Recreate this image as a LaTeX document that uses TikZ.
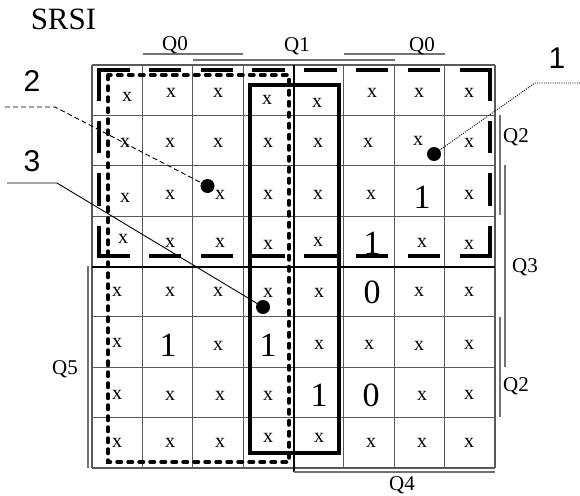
\documentclass[tikz,border=0pt]{standalone}
\usepackage{fontspec}
\setmainfont{Liberation Serif}
\newfontfamily\calloutfont{Liberation Sans}
\begin{document}
\begin{tikzpicture}[x=1pt,y=-1pt,
  gridline/.style={draw=black!65,line width=1.2pt},
  midline/.style={draw=black,line width=2pt},
  varline/.style={draw=black!55,line width=1.3pt},
  cx/.style={inner sep=0pt,font=\fontsize{20}{20}\selectfont},
  cbig/.style={inner sep=0pt,font=\fontsize{34}{34}\selectfont},
  qlab/.style={inner sep=0pt,anchor=base,font=\fontsize{21}{21}\selectfont},
  callout/.style={inner sep=0pt,font=\calloutfont\fontsize{30}{30}\selectfont},
  dotmark/.style={circle,fill=black,inner sep=0pt,minimum size=14pt},
  hdash/.style={line width=4pt,line cap=rect,dash pattern=on 28.5pt off 23.29pt},
  vdash/.style={line width=4pt,line cap=rect,dash pattern=on 28.5pt off 24pt},
  dotloop/.style={line width=3.5pt,line cap=round,dash pattern=on 4.5pt off 6.5pt},
  solidloop/.style={line width=4pt,line join=miter},
  leadA/.style={line width=0.9pt,dash pattern=on 1pt off 1.2pt},
  leadB/.style={line width=0.9pt,dash pattern=on 5pt off 3pt},
  leadC/.style={line width=0.9pt}]
\useasboundingbox (0,0) rectangle (580,495);

% grid
\foreach \i in {0,...,8} {
  \draw[gridline] ({92+50.375*\i},65) -- ({92+50.375*\i},468);
  \draw[gridline] (92,{65+50.375*\i}) -- (495,{65+50.375*\i});
}
\draw[midline] (293.5,65) -- (293.5,472);
\draw[midline] (92,266.5) -- (495,266.5);

% variable bars
\draw[varline] (143,54) -- (243,54);
\draw[varline] (193,60) -- (395,60);
\draw[varline] (344,54) -- (445,54);
\draw[varline] (500,115) -- (500,215);
\draw[varline] (505,165) -- (505,367);
\draw[varline] (500,317) -- (500,417);
\draw[varline] (294,472) -- (495,472);
\draw[varline] (88,266) -- (88,468);

% labels
\node[inner sep=0pt,anchor=base,font=\fontsize{31}{31}\selectfont] (title) at (63.5,29.3) {SRSI};
\node[qlab] (q0a) at (175,50) {Q0};
\node[qlab] (q1) at (297,52) {Q1};
\node[qlab] (q0b) at (422,52) {Q0};
\node[qlab] (q2a) at (516,142) {Q2};
\node[qlab] (q3) at (525,272) {Q3};
\node[qlab] (q2b) at (516,391) {Q2};
\node[qlab] (q4) at (402,490) {Q4};
\node[qlab] (q5) at (65,374) {Q5};

% cell entries
\node[cx] (c11) at (127,97) {x};
\node[cx] (c12) at (171,93) {x};
\node[cx] (c13) at (218,93) {x};
\node[cx] (c14) at (267,100) {x};
\node[cx] (c15) at (317,103) {x};
\node[cx] (c16) at (372,93) {x};
\node[cx] (c17) at (419,93) {x};
\node[cx] (c18) at (469,93) {x};

\node[cx] (c21) at (125,143) {x};
\node[cx] (c22) at (170,143) {x};
\node[cx] (c23) at (218,143) {x};
\node[cx] (c24) at (268,143) {x};
\node[cx] (c25) at (318,143) {x};
\node[cx] (c26) at (368,143) {x};
\node[cx] (c27) at (418,141) {x};
\node[cx] (c28) at (469,143) {x};

\node[cx] (c31) at (125,198) {x};
\node[cx] (c32) at (170,195) {x};
\node[cx] (c33) at (220,195) {x};
\node[cx] (c34) at (268,195) {x};
\node[cx] (c35) at (318,195) {x};
\node[cx] (c36) at (371,195) {x};
\node[cbig] (c37) at (422,197) {1};
\node[cx] (c38) at (469,195) {x};

\node[cx] (c41) at (123,239) {x};
\node[cx] (c42) at (170,243) {x};
\node[cx] (c43) at (220,243) {x};
\node[cx] (c44) at (268,245) {x};
\node[cx] (c45) at (318,242) {x};
\node[cbig] (c46) at (372,243) {1};
\node[cx] (c47) at (422,243) {x};
\node[cx] (c48) at (469,245) {x};

\node[cx] (c51) at (117,292) {x};
\node[cx] (c52) at (170,292) {x};
\node[cx] (c53) at (218,292) {x};
\node[cx] (c54) at (268,293) {x};
\node[cx] (c55) at (319,293) {x};
\node[cbig] (c56) at (372,292) {0};
\node[cx] (c57) at (419,292) {x};
\node[cx] (c58) at (469,292) {x};

\node[cx] (c61) at (117,343) {x};
\node[cbig] (c62) at (168,345) {1};
\node[cx] (c63) at (218,346) {x};
\node[cbig] (c64) at (268,345) {1};
\node[cx] (c65) at (319,345) {x};
\node[cx] (c66) at (369,345) {x};
\node[cx] (c67) at (419,346) {x};
\node[cx] (c68) at (469,345) {x};

\node[cx] (c71) at (117,395) {x};
\node[cx] (c72) at (170,396) {x};
\node[cx] (c73) at (220,396) {x};
\node[cx] (c74) at (268,396) {x};
\node[cbig] (c75) at (319,395) {1};
\node[cbig] (c76) at (371,395) {0};
\node[cx] (c77) at (422,396) {x};
\node[cx] (c78) at (469,395) {x};

\node[cx] (c81) at (117,443) {x};
\node[cx] (c82) at (170,443) {x};
\node[cx] (c83) at (220,443) {x};
\node[cx] (c84) at (268,438) {x};
\node[cx] (c85) at (319,438) {x};
\node[cx] (c86) at (371,443) {x};
\node[cx] (c87) at (422,443) {x};
\node[cx] (c88) at (469,443) {x};

% loops
\draw[hdash] (99,70) -- (490,70);
\draw[hdash] (99,256) -- (490,256);
\draw[vdash] (99,70) -- (99,256);
\draw[vdash] (490,70) -- (490,256);
\draw[dotloop] (108,75) rectangle (289,462);
\draw[solidloop] (250,85) rectangle (339,453);

% callouts
\node[callout] (n1) at (557,58) {1};
\node[callout] (n2) at (32,81) {2};
\node[callout] (n3) at (32,161) {3};
\node[dotmark] (d1) at (434,154) {};
\node[dotmark] (d2) at (207.5,186) {};
\node[dotmark] (d3) at (263,307) {};
\coordinate (e1) at (580,83);
\coordinate (b1) at (535,83);
\coordinate (e2) at (5,107);
\coordinate (b2) at (55,107);
\coordinate (e3) at (7,183);
\coordinate (b3) at (57,183);
\draw[leadA] (e1) -- (b1) -- (d1.center);
\draw[leadB] (e2) -- (b2) -- (d2.center);
\draw[leadC] (e3) -- (b3) -- (d3.center);
\end{tikzpicture}
\end{document}
